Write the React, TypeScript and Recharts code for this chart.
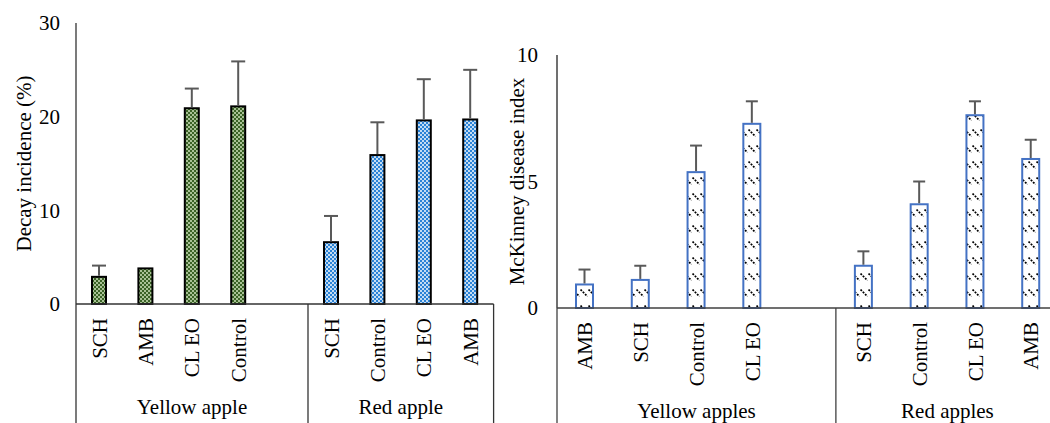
import React from "react";
import { BarChart, Bar, XAxis, YAxis, Label } from "recharts";

// left panel: decay incidence (%)
const decayYellowLabels = ["SCH", "AMB", "CL EO", "Control"];
const decayYellowValues = [2.9, 3.8, 20.9, 21.1];
const decayYellowErrors = [1.2, 0, 2.1, 4.8];
const decayRedLabels = ["SCH", "Control", "CL EO", "AMB"];
const decayRedValues = [6.6, 15.9, 19.6, 19.7];
const decayRedErrors = [2.8, 3.5, 4.4, 5.3];
const decayGroups = ["Yellow apple", "Red apple"];
const decayTicks = [0, 10, 20, 30];

// right panel: McKinney disease index
const indexYellowLabels = ["AMB", "SCH", "Control", "CL EO"];
const indexYellowValues = [0.93, 1.11, 5.37, 7.28];
const indexYellowErrors = [0.59, 0.56, 1.05, 0.89];
const indexRedLabels = ["SCH", "Control", "CL EO", "AMB"];
const indexRedValues = [1.67, 4.1, 7.62, 5.89];
const indexRedErrors = [0.57, 0.9, 0.55, 0.76];
const indexGroups = ["Yellow apples", "Red apples"];
const indexTicks = [0, 5, 10];

const FONT = "'Liberation Serif', 'Times New Roman', serif";
const FS = 21;

type Row = { id: string; label: string; group: number; value: number | null; err: number };

function buildRows(
  yl: string[], yv: number[], ye: number[],
  rl: string[], rv: number[], re: number[]
): Row[] {
  const rows: Row[] = [];
  yl.forEach((l, i) => rows.push({ id: "y" + i, label: l, group: 0, value: yv[i], err: ye[i] }));
  rows.push({ id: "gap", label: "", group: 0, value: null, err: 0 });
  rl.forEach((l, i) => rows.push({ id: "r" + i, label: l, group: 1, value: rv[i], err: re[i] }));
  return rows;
}

const decayRows = buildRows(decayYellowLabels, decayYellowValues, decayYellowErrors, decayRedLabels, decayRedValues, decayRedErrors);
const indexRows = buildRows(indexYellowLabels, indexYellowValues, indexYellowErrors, indexRedLabels, indexRedValues, indexRedErrors);

function makeShape(fills: string[], stroke: string, cap: number) {
  return (props: any) => {
    const { x, y, width, height, payload } = props;
    if (payload == null || payload.value == null || !isFinite(height)) return <g />;
    const perUnit = payload.value ? height / payload.value : 0;
    const top = y - payload.err * perUnit;
    const cx = x + width / 2;
    return (
      <g>
        <rect x={x} y={y} width={width} height={height} fill={fills[payload.group]} stroke={stroke} strokeWidth={2} />
        {payload.err > 0 && (
          <g stroke="#595959" strokeWidth={2}>
            <line x1={cx} x2={cx} y1={y - 1} y2={top} />
            <line x1={cx - cap / 2} x2={cx + cap / 2} y1={top} y2={top} />
          </g>
        )}
      </g>
    );
  };
}

function makeTick(rows: Row[], groups: string[], axisHeight: number, endLine: boolean, stroke: string) {
  return (props: any) => {
    const { x, y, index, payload } = props;
    const row = rows[index];
    if (!row) return <g />;
    const off = payload && payload.offset ? payload.offset : 0;
    const first = index === 0 || rows[index - 1].group !== row.group;
    const count = rows.filter((r) => r.group === row.group).length;
    const last = index === rows.length - 1;
    return (
      <g>
        {row.label && (
          <text
            transform={`translate(${x},${y + 14}) rotate(-90)`}
            textAnchor="end"
            dy="0.35em"
            fontFamily={FONT}
            fontSize={FS}
            fill="#000"
          >
            {row.label}
          </text>
        )}
        {first && <line x1={x - off} x2={x - off} y1={y} y2={y + axisHeight} stroke={stroke} strokeWidth={1.3} />}
        {first && (
          <text x={x - off + count * off} y={y + 110} textAnchor="middle" fontFamily={FONT} fontSize={FS} fill="#000">
            {groups[row.group]}
          </text>
        )}
        {endLine && last && <line x1={x + off} x2={x + off} y1={y} y2={y + axisHeight} stroke={stroke} strokeWidth={1.3} />}
      </g>
    );
  };
}

function yLabel(text: string, dx: number) {
  return (p: any) => {
    const vb = p.viewBox || { x: 0, y: 0, width: 0, height: 0 };
    return (
      <text
        transform={`translate(${vb.x + dx},${vb.y + vb.height / 2}) rotate(-90)`}
        textAnchor="middle"
        dominantBaseline="central"
        fontFamily={FONT}
        fontSize={FS}
        fill="#000"
      >
        {text}
      </text>
    );
  };
}

export default function App() {
  return (
    <div style={{ position: "absolute", left: 0, top: 0, width: 1050, height: 423, overflow: "hidden", background: "#fff" }}>
      <svg width={0} height={0} style={{ position: "absolute" }}>
        <defs>
          <pattern id="greenCheck" width={4} height={4} patternUnits="userSpaceOnUse">
            <rect width={4} height={4} fill="#a8c195" />
            <rect x={0} y={0} width={2} height={2} fill="#3a6226" />
            <rect x={2} y={2} width={2} height={2} fill="#3a6226" />
          </pattern>
          <pattern id="blueCheck" width={4} height={4} patternUnits="userSpaceOnUse">
            <rect width={4} height={4} fill="#c3dcf3" />
            <rect x={0} y={0} width={2} height={2} fill="#2a82d6" />
            <rect x={2} y={2} width={2} height={2} fill="#2a82d6" />
          </pattern>
          <pattern id="dashDiag" width={8} height={16} patternUnits="userSpaceOnUse">
            <rect width={8} height={16} fill="#fff" />
            <line x1={0.5} y1={1.5} x2={7.5} y2={8.5} stroke="#000" strokeWidth={1.7} strokeDasharray="2 1.2" />
          </pattern>
        </defs>
      </svg>

      <div style={{ position: "absolute", left: 0, top: 0 }}>
        <BarChart width={500} height={423} data={decayRows} margin={{ top: 23, right: 6.4, bottom: 0, left: 0 }}>
          <XAxis
            dataKey="id"
            type="category"
            height={119}
            interval={0}
            tickLine={false}
            tickSize={0}
            tickMargin={0}
            axisLine={{ stroke: "#333", strokeWidth: 1.3 }}
            tick={makeTick(decayRows, decayGroups, 119, true, "#333")}
          />
          <YAxis
            width={76}
            domain={[0, 30]}
            ticks={decayTicks}
            tickLine={false}
            tickSize={0}
            tickMargin={16}
            axisLine={{ stroke: "#333", strokeWidth: 1.3 }}
            tick={{ fontFamily: FONT, fontSize: FS, fill: "#000" }}
          >
            <Label content={yLabel("Decay incidence (%)", 24)} />
          </YAxis>
          <Bar
            dataKey="value"
            barSize={14}
            isAnimationActive={false}
            shape={makeShape(["url(#greenCheck)", "url(#blueCheck)"], "#000", 14)}
          />
        </BarChart>
      </div>

      <div style={{ position: "absolute", left: 500, top: 0 }}>
        <BarChart width={559} height={423} data={indexRows} margin={{ top: 55, right: 0, bottom: 0, left: 0 }}>
          <XAxis
            dataKey="id"
            type="category"
            height={115}
            interval={0}
            tickLine={false}
            tickSize={0}
            tickMargin={0}
            axisLine={{ stroke: "#404040", strokeWidth: 1.5 }}
            tick={makeTick(indexRows, indexGroups, 115, false, "#404040")}
          />
          <YAxis
            width={57}
            domain={[0, 10]}
            ticks={indexTicks}
            tickLine={false}
            tickSize={0}
            tickMargin={19}
            axisLine={{ stroke: "#404040", strokeWidth: 1.5 }}
            tick={{ fontFamily: FONT, fontSize: FS, fill: "#000" }}
          >
            <Label content={yLabel("McKinney disease index", 17)} />
          </YAxis>
          <Bar
            dataKey="value"
            barSize={17}
            isAnimationActive={false}
            shape={makeShape(["url(#dashDiag)", "url(#dashDiag)"], "#4472c4", 12)}
          />
        </BarChart>
      </div>
    </div>
  );
}
